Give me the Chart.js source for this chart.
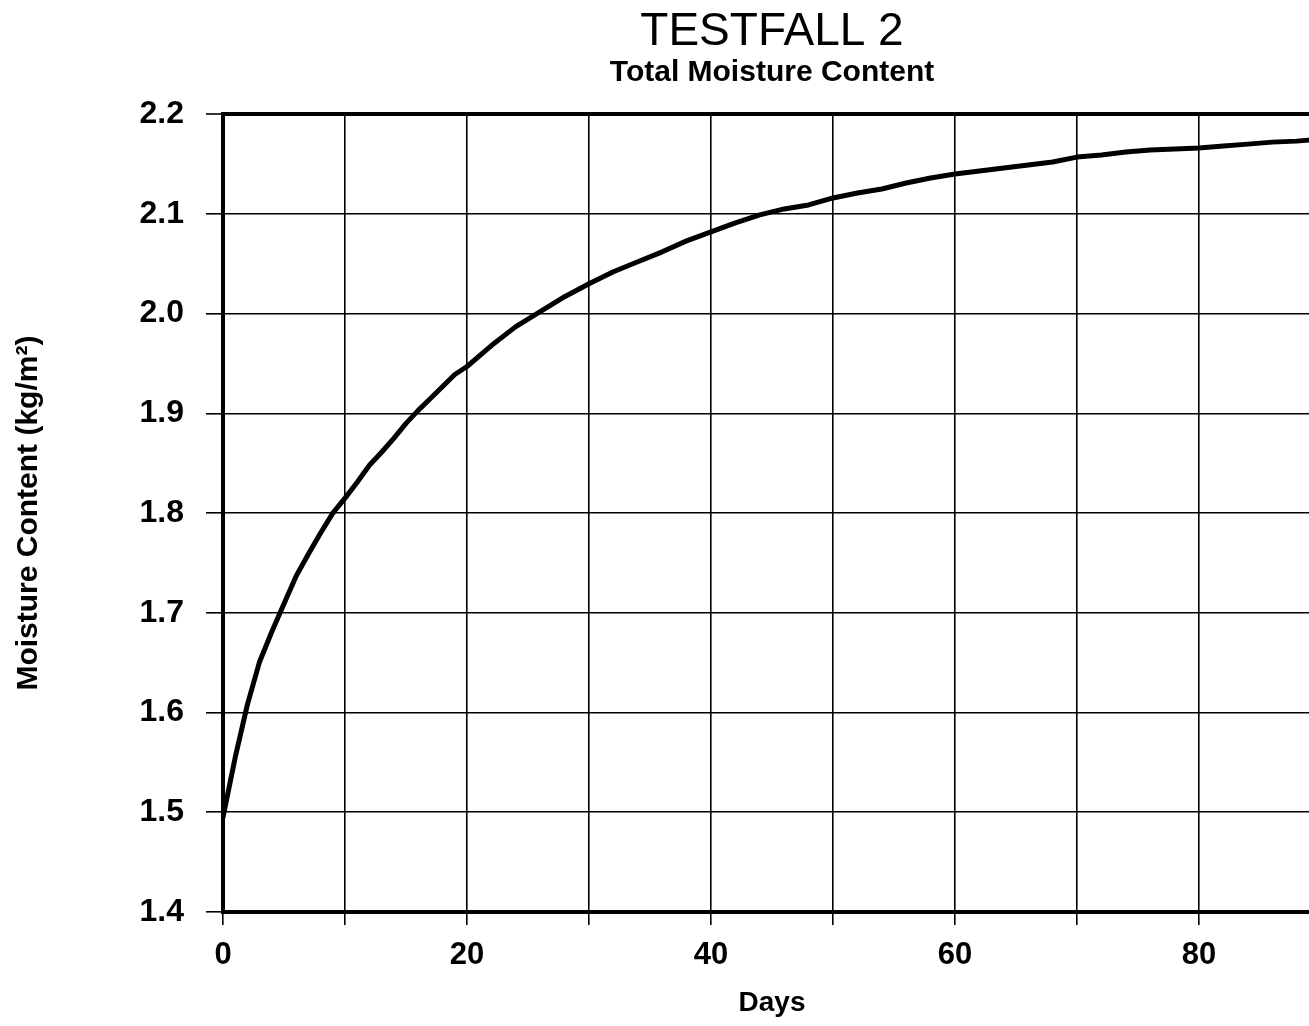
<!DOCTYPE html>
<html>
<head>
<meta charset="utf-8">
<title>TESTFALL 2 – Total Moisture Content</title>
<script src="https://cdn.jsdelivr.net/npm/chart.js@4/dist/chart.umd.min.js"></script>
<style>
  html, body { margin: 0; padding: 0; background: #fff; overflow: hidden; }
  #wrap { width: 1309px; height: 1026px; overflow: hidden; position: relative; }
  canvas { display: block; }
</style>
</head>
<body>
<div id="wrap"><canvas id="chart" width="1544" height="1026"></canvas></div>
<script>
// Total moisture content over time (days, kg/m²)
const days = [0, 1, 2, 3, 4, 5, 6, 7, 8, 9, 10, 11, 12, 13, 14, 15, 16, 17, 18, 19, 20,
  22, 24, 26, 28, 30, 32, 34, 36, 38, 40, 42, 44, 46, 48, 50, 52, 54, 56, 58, 60,
  62, 64, 66, 68, 70, 72, 74, 76, 78, 80, 82, 84, 86, 88, 89];
const moisture = [1.495, 1.555, 1.608, 1.651, 1.681, 1.709, 1.737, 1.759, 1.780, 1.800, 1.815,
  1.831, 1.848, 1.861, 1.875, 1.890, 1.903, 1.915, 1.927, 1.939, 1.947,
  1.968, 1.987, 2.002, 2.017, 2.030, 2.042, 2.052, 2.062, 2.073, 2.082, 2.091, 2.099,
  2.105, 2.109, 2.116, 2.121, 2.125, 2.131, 2.136, 2.140,
  2.143, 2.146, 2.149, 2.152, 2.157, 2.159, 2.162, 2.164, 2.165, 2.166,
  2.168, 2.170, 2.172, 2.173, 2.174];

const xTickLabels = [0, 20, 40, 60, 80];
const yTickLabels = ['1.4', '1.5', '1.6', '1.7', '1.8', '1.9', '2.0', '2.1', '2.2'];

const FONT = "'Liberation Sans', Arial, Helvetica, sans-serif";
const INK = '#000';

const points = days.map((d, i) => ({ x: d, y: moisture[i] }));

new Chart(document.getElementById('chart'), {
  type: 'line',
  data: {
    datasets: [{
      label: 'Total Moisture Content',
      data: points,
      borderColor: INK,
      borderWidth: 5,
      pointRadius: 0,
      tension: 0,
      borderJoinStyle: 'round',
      borderCapStyle: 'round',
      fill: false,
      yAxisID: 'y'
    }]
  },
  options: {
    responsive: false,
    animation: false,
    layout: { padding: 0 },
    plugins: {
      legend: { display: false },
      tooltip: { enabled: false },
      title: {
        display: true,
        text: 'TESTFALL 2',
        color: INK,
        font: { family: FONT, size: 46, weight: 'normal', lineHeight: 1.2 },
        padding: { top: 5, bottom: 0 }
      },
      subtitle: {
        display: true,
        text: 'Total Moisture Content',
        color: INK,
        font: { family: FONT, size: 30, weight: 'bold', lineHeight: 1.2 },
        padding: { top: -5, bottom: 23 }
      }
    },
    scales: {
      x: {
        type: 'linear',
        min: 0,
        max: 90,
        afterFit: (scale) => { scale.height = 114; },
        border: { display: true, color: INK, width: 4 },
        grid: {
          color: INK,
          lineWidth: 1.6,
          tickLength: 13,
          tickColor: INK,
          tickWidth: 1.6
        },
        ticks: {
          stepSize: 10,
          padding: 12,
          maxRotation: 0,
          color: INK,
          font: { family: FONT, size: 31, weight: 'bold' },
          callback: (v) => (xTickLabels.includes(v) ? String(v) : '')
        },
        title: {
          display: true,
          text: 'Days',
          color: INK,
          font: { family: FONT, size: 28, weight: 'bold', lineHeight: 1.2 },
          padding: { top: 0, bottom: 6 }
        }
      },
      y: {
        position: 'left',
        min: 1.4,
        max: 2.2,
        afterFit: (scale) => { scale.width = 223; },
        border: { display: true, color: INK, width: 4 },
        grid: {
          color: INK,
          lineWidth: (ctx) => (ctx.tick && Math.abs(ctx.tick.value - 2.2) < 1e-6 ? 4 : 1.6),
          tickLength: 17,
          tickColor: INK,
          tickWidth: 1.6
        },
        ticks: {
          stepSize: 0.1,
          padding: 22,
          color: INK,
          font: { family: FONT, size: 32, weight: 'bold' },
          callback: (v) => {
            const s = Number(v).toFixed(1);
            return yTickLabels.includes(s) ? s : '';
          }
        },
        title: {
          display: true,
          text: 'Moisture Content (kg/m²)',
          color: INK,
          font: { family: FONT, size: 30, weight: 'bold', lineHeight: 1.2 },
          padding: { top: 11, bottom: 0 }
        }
      },
      // empty right-hand margin so the plot sits between equal side gutters
      yRight: {
        position: 'right',
        min: 1.4,
        max: 2.2,
        afterFit: (scale) => { scale.width = 223; },
        border: { display: false },
        grid: { display: false },
        ticks: { display: false }
      }
    }
  }
});
</script>
</body>
</html>
